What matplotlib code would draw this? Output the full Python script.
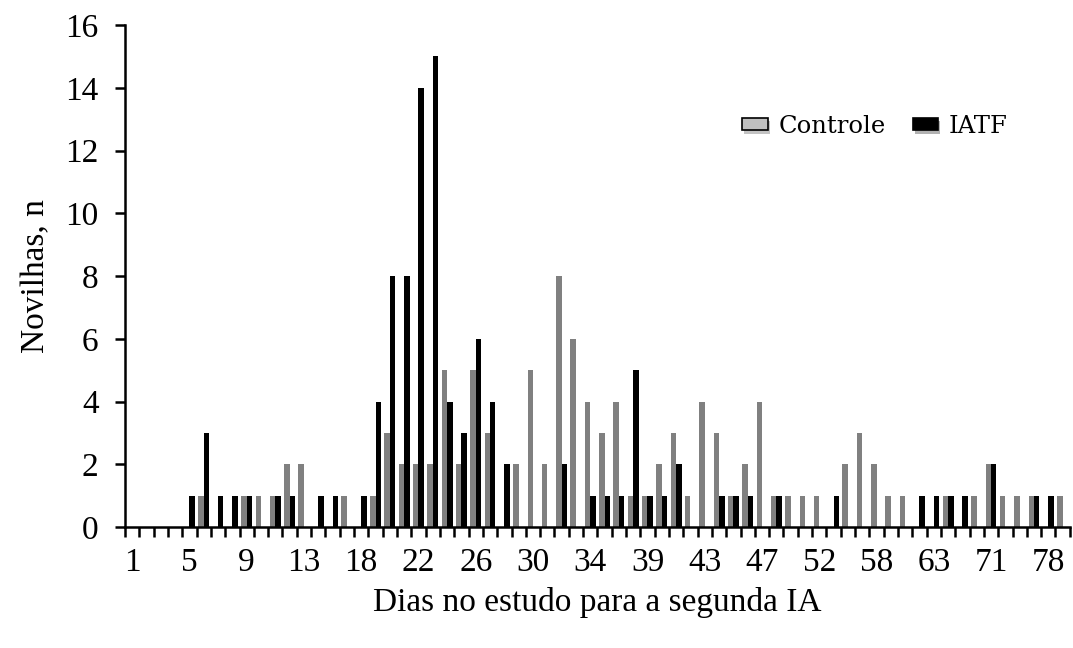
import numpy as np
import matplotlib
matplotlib.use("Agg")
import matplotlib.pyplot as plt
from matplotlib.patches import Patch
import matplotlib.patheffects as pe

# day categories (only every 4th one is labelled on the axis)
dias = [1, 2, 3, 4, 5, 6, 7, 8, 9, 10, 11, 12, 13, 14, 15, 17,
        18, 19, 20, 21, 22, 23, 24, 25, 26, 27, 28, 29, 30, 31, 32, 33,
        34, 35, 36, 37, 39, 40, 41, 42, 43, 44, 45, 46, 47, 48, 49, 50,
        52, 54, 55, 56, 58, 60, 61, 62, 63, 65, 67, 69, 71, 73, 75, 76,
        78, 79]

controle = [0, 0, 0, 0, 0, 1, 0, 0, 1, 1, 1, 2, 2, 0, 0, 1,
            0, 1, 3, 2, 2, 2, 5, 2, 5, 3, 0, 2, 5, 2, 8, 6,
            4, 3, 4, 1, 1, 2, 3, 1, 4, 3, 1, 2, 4, 1, 1, 1,
            1, 0, 2, 3, 2, 1, 1, 0, 0, 1, 0, 1, 2, 1, 1, 1,
            0, 1]

iatf = [0, 0, 0, 0, 1, 3, 1, 1, 1, 0, 1, 1, 0, 1, 1, 0,
        1, 4, 8, 8, 14, 15, 4, 3, 6, 4, 2, 0, 0, 0, 2, 0,
        1, 1, 1, 5, 1, 1, 2, 0, 0, 1, 1, 1, 0, 1, 0, 0,
        0, 1, 0, 0, 0, 0, 0, 1, 1, 1, 1, 0, 2, 0, 0, 1,
        1, 0]

plt.rcParams['font.family'] = ['Liberation Serif', 'DejaVu Serif']

fig = plt.figure(figsize=(10.73, 6.48), dpi=100)
ax = fig.add_axes([0.1165, 0.1867, 0.8805, 0.7747])

x = np.arange(len(dias))
w = 0.38
ax.bar(x - w / 2, controle, width=w, color='#808080', linewidth=0)
ax.bar(x + w / 2, iatf, width=w, color='black', linewidth=0)

ax.set_xlim(-0.5, len(dias) - 0.5)
ax.set_ylim(0, 16)
ax.set_yticks(range(0, 17, 2))

# labels every 4 categories, tick marks between categories
ax.set_xticks(x[::4])
ax.set_xticklabels([str(d) for d in dias[::4]])
ax.set_xticks(np.arange(-0.5, len(dias), 1.0), minor=True)
ax.tick_params(axis='x', which='major', length=0, pad=15, labelsize=24)
ax.tick_params(axis='x', which='minor', length=7, width=1.8, direction='out')
ax.tick_params(axis='y', length=7, width=1.8, direction='out', pad=12, labelsize=24)

for s in ['top', 'right']:
    ax.spines[s].set_visible(False)
for s in ['left', 'bottom']:
    ax.spines[s].set_linewidth(1.8)

ax.set_xlabel('Dias no estudo para a segunda IA', fontsize=24, labelpad=6)
ax.set_ylabel('Novilhas, n', fontsize=24, labelpad=10)

shadow = [pe.SimplePatchShadow(offset=(1.5, -2.5), alpha=0.3), pe.Normal()]
handles = [Patch(facecolor='#c0c0c0', edgecolor='black', linewidth=1.2,
                 label='Controle', path_effects=shadow),
           Patch(facecolor='black', edgecolor='black', linewidth=1.2,
                 label='IATF', path_effects=shadow)]
ax.legend(handles=handles, loc='upper left', bbox_to_anchor=(0.63, 0.865),
          ncol=2, frameon=False, prop={'family': 'DejaVu Serif', 'size': 17.5},
          handlelength=1.05, handleheight=0.42, handletextpad=0.45,
          columnspacing=1.1)

fig.savefig('out.png', dpi=100)
